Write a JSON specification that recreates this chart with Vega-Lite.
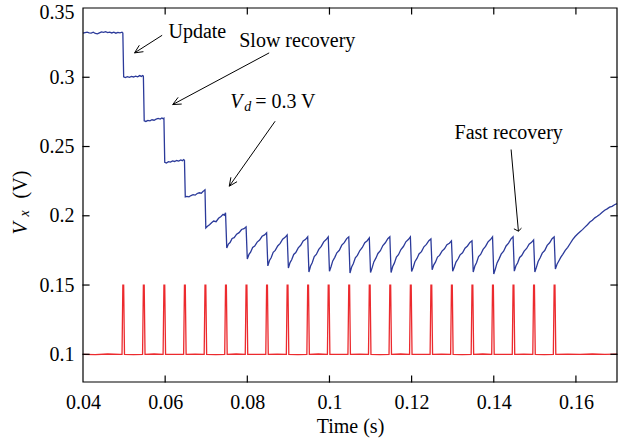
{
  "$schema": "https://vega.github.io/schema/vega-lite/v6.json",
  "width": 534,
  "height": 374,
  "autosize": "none",
  "padding": {"left": 83, "top": 8, "right": 1, "bottom": 62},
  "background": "white",
  "config": {
    "view": {"stroke": null},
    "text": {"font": "Liberation Serif", "fontSize": 20, "color": "black", "align": "left", "baseline": "alphabetic"}
  },
  "encoding": {
    "x": {"field": "t", "type": "quantitative", "scale": {"domain": [0.04, 0.17], "nice": false, "zero": false},
      "axis": {"orient": "bottom", "title": "Time (s)", "values": [0.04, 0.06, 0.08, 0.1, 0.12, 0.14, 0.16], "format": "~g",
        "domain": false, "ticks": false, "grid": false, "labelFlush": false, "labelOverlap": false,
        "labelFont": "Liberation Serif", "labelFontSize": 20, "labelColor": "#000000", "labelPadding": 10,
        "titleFont": "Liberation Serif", "titleFontSize": 20, "titleFontWeight": "normal", "titleColor": "#000000", "titlePadding": 4}},
    "y": {"field": "v", "type": "quantitative", "scale": {"domain": [0.08, 0.35], "nice": false, "zero": false},
      "axis": {"orient": "left", "title": null, "values": [0.1, 0.15, 0.2, 0.25, 0.3, 0.35], "format": "~g",
        "domain": false, "ticks": false, "grid": false, "labelFlush": 1, "labelFlushOffset": 6, "labelOverlap": false,
        "labelFont": "Liberation Serif", "labelFontSize": 20, "labelColor": "#000000", "labelPadding": 9}}
  },
  "datasets": {
    "vx": [
      {"t":0.0400,"v":0.3318},{"t":0.0405,"v":0.3322},{"t":0.0410,"v":0.3326},{"t":0.0415,"v":0.3321},{"t":0.0420,"v":0.3319},{"t":0.0425,"v":0.3325},{"t":0.0430,"v":0.3316},{"t":0.0435,"v":0.3313},{"t":0.0440,"v":0.3320},{"t":0.0445,"v":0.3327},{"t":0.0450,"v":0.3324},{"t":0.0455,"v":0.3329},{"t":0.0460,"v":0.3322},{"t":0.0465,"v":0.3326},{"t":0.0470,"v":0.3320},{"t":0.0475,"v":0.3325},{"t":0.0480,"v":0.3318},{"t":0.0485,"v":0.3324},{"t":0.0490,"v":0.3321},{"t":0.0495,"v":0.3325},{"t":0.0497,"v":0.3320},
      {"t":0.0499,"v":0.3003},{"t":0.0503,"v":0.2998},{"t":0.0508,"v":0.3004},{"t":0.0513,"v":0.3000},{"t":0.0518,"v":0.3006},{"t":0.0523,"v":0.3002},{"t":0.0528,"v":0.3008},{"t":0.0533,"v":0.3003},{"t":0.0538,"v":0.3012},{"t":0.0542,"v":0.3006},{"t":0.0545,"v":0.3013},{"t":0.0547,"v":0.3009},
      {"t":0.0549,"v":0.2686},{"t":0.0553,"v":0.2681},{"t":0.0558,"v":0.2689},{"t":0.0563,"v":0.2685},{"t":0.0568,"v":0.2693},{"t":0.0573,"v":0.2690},{"t":0.0578,"v":0.2698},{"t":0.0583,"v":0.2703},{"t":0.0588,"v":0.2698},{"t":0.0592,"v":0.2706},{"t":0.0595,"v":0.2701},{"t":0.0597,"v":0.2705},
      {"t":0.0599,"v":0.2386},{"t":0.0603,"v":0.2381},{"t":0.0608,"v":0.2391},{"t":0.0613,"v":0.2387},{"t":0.0618,"v":0.2396},{"t":0.0623,"v":0.2392},{"t":0.0628,"v":0.2399},{"t":0.0633,"v":0.2395},{"t":0.0638,"v":0.2403},{"t":0.0642,"v":0.2398},{"t":0.0645,"v":0.2406},{"t":0.0647,"v":0.2401},
      {"t":0.0649,"v":0.2136},{"t":0.0653,"v":0.2140},{"t":0.0658,"v":0.2137},{"t":0.0663,"v":0.2146},{"t":0.0668,"v":0.2152},{"t":0.0673,"v":0.2149},{"t":0.0678,"v":0.2161},{"t":0.0683,"v":0.2166},{"t":0.0688,"v":0.2163},{"t":0.0692,"v":0.2175},{"t":0.0695,"v":0.2182},{"t":0.0697,"v":0.2187},
      {"t":0.0699,"v":0.1912},{"t":0.0703,"v":0.1924},{"t":0.0708,"v":0.1935},{"t":0.0713,"v":0.1950},{"t":0.0718,"v":0.1962},{"t":0.0724,"v":0.1957},{"t":0.0730,"v":0.1982},{"t":0.0736,"v":0.1995},{"t":0.0741,"v":0.2010},{"t":0.0744,"v":0.2004},{"t":0.0747,"v":0.2022},
      {"t":0.0750,"v":0.1768},{"t":0.0754,"v":0.1796},{"t":0.0758,"v":0.1807},{"t":0.0763,"v":0.1836},{"t":0.0768,"v":0.1842},{"t":0.0774,"v":0.1867},{"t":0.0780,"v":0.1878},{"t":0.0786,"v":0.1901},{"t":0.0792,"v":0.1907},{"t":0.0797,"v":0.1920},
      {"t":0.0800,"v":0.1688},{"t":0.0804,"v":0.1721},{"t":0.0808,"v":0.1737},{"t":0.0813,"v":0.1771},{"t":0.0818,"v":0.1781},{"t":0.0824,"v":0.1810},{"t":0.0830,"v":0.1825},{"t":0.0836,"v":0.1852},{"t":0.0842,"v":0.1862},{"t":0.0847,"v":0.1877},
      {"t":0.0850,"v":0.1638},{"t":0.0854,"v":0.1677},{"t":0.0858,"v":0.1697},{"t":0.0863,"v":0.1736},{"t":0.0868,"v":0.1750},{"t":0.0874,"v":0.1782},{"t":0.0880,"v":0.1801},{"t":0.0886,"v":0.1831},{"t":0.0892,"v":0.1844},{"t":0.0897,"v":0.1862},
      {"t":0.0900,"v":0.1623},{"t":0.0904,"v":0.1662},{"t":0.0908,"v":0.1682},{"t":0.0913,"v":0.1721},{"t":0.0918,"v":0.1735},{"t":0.0924,"v":0.1768},{"t":0.0930,"v":0.1787},{"t":0.0936,"v":0.1818},{"t":0.0942,"v":0.1830},{"t":0.0947,"v":0.1848},
      {"t":0.0950,"v":0.1594},{"t":0.0954,"v":0.1637},{"t":0.0958,"v":0.1661},{"t":0.0963,"v":0.1705},{"t":0.0968,"v":0.1721},{"t":0.0974,"v":0.1757},{"t":0.0980,"v":0.1779},{"t":0.0986,"v":0.1812},{"t":0.0992,"v":0.1828},{"t":0.0997,"v":0.1848},
      {"t":0.1000,"v":0.1600},{"t":0.1004,"v":0.1634},{"t":0.1008,"v":0.1674},{"t":0.1013,"v":0.1700},{"t":0.1018,"v":0.1733},{"t":0.1024,"v":0.1751},{"t":0.1030,"v":0.1788},{"t":0.1036,"v":0.1806},{"t":0.1042,"v":0.1835},{"t":0.1047,"v":0.1848},
      {"t":0.1050,"v":0.1587},{"t":0.1054,"v":0.1630},{"t":0.1058,"v":0.1654},{"t":0.1063,"v":0.1697},{"t":0.1068,"v":0.1714},{"t":0.1074,"v":0.1749},{"t":0.1080,"v":0.1771},{"t":0.1086,"v":0.1805},{"t":0.1092,"v":0.1820},{"t":0.1097,"v":0.1840},
      {"t":0.1100,"v":0.1590},{"t":0.1104,"v":0.1626},{"t":0.1108,"v":0.1667},{"t":0.1113,"v":0.1694},{"t":0.1118,"v":0.1728},{"t":0.1124,"v":0.1748},{"t":0.1130,"v":0.1785},{"t":0.1136,"v":0.1805},{"t":0.1142,"v":0.1834},{"t":0.1147,"v":0.1848},
      {"t":0.1150,"v":0.1590},{"t":0.1154,"v":0.1634},{"t":0.1158,"v":0.1658},{"t":0.1163,"v":0.1702},{"t":0.1168,"v":0.1719},{"t":0.1174,"v":0.1756},{"t":0.1180,"v":0.1778},{"t":0.1186,"v":0.1812},{"t":0.1192,"v":0.1828},{"t":0.1197,"v":0.1848},
      {"t":0.1200,"v":0.1597},{"t":0.1204,"v":0.1629},{"t":0.1208,"v":0.1668},{"t":0.1213,"v":0.1692},{"t":0.1218,"v":0.1724},{"t":0.1224,"v":0.1741},{"t":0.1230,"v":0.1776},{"t":0.1236,"v":0.1793},{"t":0.1242,"v":0.1820},{"t":0.1247,"v":0.1833},
      {"t":0.1250,"v":0.1610},{"t":0.1254,"v":0.1646},{"t":0.1258,"v":0.1665},{"t":0.1263,"v":0.1702},{"t":0.1268,"v":0.1714},{"t":0.1274,"v":0.1745},{"t":0.1280,"v":0.1762},{"t":0.1286,"v":0.1791},{"t":0.1292,"v":0.1802},{"t":0.1297,"v":0.1819},
      {"t":0.1300,"v":0.1600},{"t":0.1304,"v":0.1630},{"t":0.1308,"v":0.1666},{"t":0.1313,"v":0.1688},{"t":0.1318,"v":0.1718},{"t":0.1324,"v":0.1733},{"t":0.1330,"v":0.1766},{"t":0.1336,"v":0.1782},{"t":0.1342,"v":0.1808},{"t":0.1347,"v":0.1819},
      {"t":0.1350,"v":0.1594},{"t":0.1354,"v":0.1637},{"t":0.1358,"v":0.1661},{"t":0.1363,"v":0.1705},{"t":0.1368,"v":0.1721},{"t":0.1374,"v":0.1757},{"t":0.1380,"v":0.1779},{"t":0.1386,"v":0.1812},{"t":0.1392,"v":0.1828},{"t":0.1397,"v":0.1848},
      {"t":0.1400,"v":0.1580},{"t":0.1404,"v":0.1617},{"t":0.1408,"v":0.1660},{"t":0.1413,"v":0.1689},{"t":0.1418,"v":0.1723},{"t":0.1424,"v":0.1744},{"t":0.1430,"v":0.1782},{"t":0.1436,"v":0.1803},{"t":0.1442,"v":0.1833},{"t":0.1447,"v":0.1848},
      {"t":0.1450,"v":0.1600},{"t":0.1454,"v":0.1639},{"t":0.1458,"v":0.1659},{"t":0.1463,"v":0.1699},{"t":0.1468,"v":0.1713},{"t":0.1474,"v":0.1745},{"t":0.1480,"v":0.1764},{"t":0.1486,"v":0.1795},{"t":0.1492,"v":0.1808},{"t":0.1497,"v":0.1826},
      {"t":0.1500,"v":0.1594},{"t":0.1504,"v":0.1629},{"t":0.1508,"v":0.1670},{"t":0.1513,"v":0.1697},{"t":0.1518,"v":0.1730},{"t":0.1524,"v":0.1749},{"t":0.1530,"v":0.1786},{"t":0.1536,"v":0.1805},{"t":0.1542,"v":0.1834},{"t":0.1547,"v":0.1848},
      {"t":0.1550,"v":0.1616},{"t":0.1554,"v":0.1650},{"t":0.1558,"v":0.1672},{"t":0.1563,"v":0.1700},{"t":0.1568,"v":0.1722},{"t":0.1574,"v":0.1750},{"t":0.1580,"v":0.1772},{"t":0.1586,"v":0.1800},{"t":0.1592,"v":0.1828},{"t":0.1598,"v":0.1850},{"t":0.1604,"v":0.1868},{"t":0.1610,"v":0.1885},{"t":0.1616,"v":0.1900},{"t":0.1622,"v":0.1918},{"t":0.1628,"v":0.1935},{"t":0.1634,"v":0.1955},{"t":0.1640,"v":0.1968},{"t":0.1646,"v":0.1985},{"t":0.1652,"v":0.1996},{"t":0.1658,"v":0.2010},{"t":0.1664,"v":0.2025},{"t":0.1670,"v":0.2040},{"t":0.1676,"v":0.2050},{"t":0.1682,"v":0.2062},{"t":0.1688,"v":0.2068},{"t":0.1694,"v":0.2080},{"t":0.1700,"v":0.2088}
    ],
    "pulse": [
      {"t":0.0400,"v":0.1000},{"t":0.0430,"v":0.0998},{"t":0.0460,"v":0.1002},{"t":0.0490,"v":0.0999},
      {"t":0.0495,"v":0.1000},{"t":0.0497,"v":0.15},{"t":0.0499,"v":0.15},{"t":0.0501,"v":0.1000},{"t":0.0523,"v":0.0998},
      {"t":0.0545,"v":0.1000},{"t":0.0547,"v":0.15},{"t":0.0549,"v":0.15},{"t":0.0551,"v":0.1000},{"t":0.0573,"v":0.1002},
      {"t":0.0595,"v":0.1000},{"t":0.0597,"v":0.15},{"t":0.0599,"v":0.15},{"t":0.0601,"v":0.1000},{"t":0.0623,"v":0.0999},
      {"t":0.0645,"v":0.1000},{"t":0.0647,"v":0.15},{"t":0.0649,"v":0.15},{"t":0.0651,"v":0.1000},{"t":0.0673,"v":0.1001},
      {"t":0.0695,"v":0.1000},{"t":0.0697,"v":0.15},{"t":0.0699,"v":0.15},{"t":0.0701,"v":0.1000},{"t":0.0723,"v":0.0998},
      {"t":0.0745,"v":0.1000},{"t":0.0747,"v":0.15},{"t":0.0749,"v":0.15},{"t":0.0751,"v":0.1000},{"t":0.0773,"v":0.1002},
      {"t":0.0795,"v":0.1000},{"t":0.0797,"v":0.15},{"t":0.0799,"v":0.15},{"t":0.0801,"v":0.1000},{"t":0.0823,"v":0.0999},
      {"t":0.0845,"v":0.1000},{"t":0.0847,"v":0.15},{"t":0.0849,"v":0.15},{"t":0.0851,"v":0.1000},{"t":0.0873,"v":0.1001},
      {"t":0.0895,"v":0.1000},{"t":0.0897,"v":0.15},{"t":0.0899,"v":0.15},{"t":0.0901,"v":0.1000},{"t":0.0923,"v":0.0998},
      {"t":0.0945,"v":0.1000},{"t":0.0947,"v":0.15},{"t":0.0949,"v":0.15},{"t":0.0951,"v":0.1000},{"t":0.0973,"v":0.1002},
      {"t":0.0995,"v":0.1000},{"t":0.0997,"v":0.15},{"t":0.0999,"v":0.15},{"t":0.1001,"v":0.1000},{"t":0.1023,"v":0.0999},
      {"t":0.1045,"v":0.1000},{"t":0.1047,"v":0.15},{"t":0.1049,"v":0.15},{"t":0.1051,"v":0.1000},{"t":0.1073,"v":0.1001},
      {"t":0.1095,"v":0.1000},{"t":0.1097,"v":0.15},{"t":0.1099,"v":0.15},{"t":0.1101,"v":0.1000},{"t":0.1123,"v":0.0998},
      {"t":0.1145,"v":0.1000},{"t":0.1147,"v":0.15},{"t":0.1149,"v":0.15},{"t":0.1151,"v":0.1000},{"t":0.1173,"v":0.1002},
      {"t":0.1195,"v":0.1000},{"t":0.1197,"v":0.15},{"t":0.1199,"v":0.15},{"t":0.1201,"v":0.1000},{"t":0.1223,"v":0.0999},
      {"t":0.1245,"v":0.1000},{"t":0.1247,"v":0.15},{"t":0.1249,"v":0.15},{"t":0.1251,"v":0.1000},{"t":0.1273,"v":0.1001},
      {"t":0.1295,"v":0.1000},{"t":0.1297,"v":0.15},{"t":0.1299,"v":0.15},{"t":0.1301,"v":0.1000},{"t":0.1323,"v":0.0998},
      {"t":0.1345,"v":0.1000},{"t":0.1347,"v":0.15},{"t":0.1349,"v":0.15},{"t":0.1351,"v":0.1000},{"t":0.1373,"v":0.1002},
      {"t":0.1395,"v":0.1000},{"t":0.1397,"v":0.15},{"t":0.1399,"v":0.15},{"t":0.1401,"v":0.1000},{"t":0.1423,"v":0.0999},
      {"t":0.1445,"v":0.1000},{"t":0.1447,"v":0.15},{"t":0.1449,"v":0.15},{"t":0.1451,"v":0.1000},{"t":0.1473,"v":0.1001},
      {"t":0.1495,"v":0.1000},{"t":0.1497,"v":0.15},{"t":0.1499,"v":0.15},{"t":0.1501,"v":0.1000},{"t":0.1523,"v":0.0998},
      {"t":0.1545,"v":0.1000},{"t":0.1547,"v":0.15},{"t":0.1549,"v":0.15},{"t":0.1551,"v":0.1000},
      {"t":0.1580,"v":0.1001},{"t":0.1610,"v":0.0999},{"t":0.1640,"v":0.1002},{"t":0.1670,"v":0.1000},{"t":0.1700,"v":0.1001}
    ],
    "box": [
      {"seg":"frame","o":1,"t":0.04,"v":0.08},{"seg":"frame","o":2,"t":0.17,"v":0.08},{"seg":"frame","o":3,"t":0.17,"v":0.35},{"seg":"frame","o":4,"t":0.04,"v":0.35},{"seg":"frame","o":5,"t":0.04,"v":0.08},
      {"seg":"b06","o":1,"t":0.06,"v":0.08},{"seg":"b06","o":2,"t":0.06,"v":0.08433},
      {"seg":"b08","o":1,"t":0.08,"v":0.08},{"seg":"b08","o":2,"t":0.08,"v":0.08433},
      {"seg":"b10","o":1,"t":0.10,"v":0.08},{"seg":"b10","o":2,"t":0.10,"v":0.08433},
      {"seg":"b12","o":1,"t":0.12,"v":0.08},{"seg":"b12","o":2,"t":0.12,"v":0.08433},
      {"seg":"b14","o":1,"t":0.14,"v":0.08},{"seg":"b14","o":2,"t":0.14,"v":0.08433},
      {"seg":"b16","o":1,"t":0.16,"v":0.08},{"seg":"b16","o":2,"t":0.16,"v":0.08433},
      {"seg":"t06","o":1,"t":0.06,"v":0.35},{"seg":"t06","o":2,"t":0.06,"v":0.34567},
      {"seg":"t08","o":1,"t":0.08,"v":0.35},{"seg":"t08","o":2,"t":0.08,"v":0.34567},
      {"seg":"t10","o":1,"t":0.10,"v":0.35},{"seg":"t10","o":2,"t":0.10,"v":0.34567},
      {"seg":"t12","o":1,"t":0.12,"v":0.35},{"seg":"t12","o":2,"t":0.12,"v":0.34567},
      {"seg":"t14","o":1,"t":0.14,"v":0.35},{"seg":"t14","o":2,"t":0.14,"v":0.34567},
      {"seg":"t16","o":1,"t":0.16,"v":0.35},{"seg":"t16","o":2,"t":0.16,"v":0.34567},
      {"seg":"l10","o":1,"t":0.04,"v":0.10},{"seg":"l10","o":2,"t":0.04146,"v":0.10},
      {"seg":"l15","o":1,"t":0.04,"v":0.15},{"seg":"l15","o":2,"t":0.04146,"v":0.15},
      {"seg":"l20","o":1,"t":0.04,"v":0.20},{"seg":"l20","o":2,"t":0.04146,"v":0.20},
      {"seg":"l25","o":1,"t":0.04,"v":0.25},{"seg":"l25","o":2,"t":0.04146,"v":0.25},
      {"seg":"l30","o":1,"t":0.04,"v":0.30},{"seg":"l30","o":2,"t":0.04146,"v":0.30},
      {"seg":"r10","o":1,"t":0.17,"v":0.10},{"seg":"r10","o":2,"t":0.16854,"v":0.10},
      {"seg":"r15","o":1,"t":0.17,"v":0.15},{"seg":"r15","o":2,"t":0.16854,"v":0.15},
      {"seg":"r20","o":1,"t":0.17,"v":0.20},{"seg":"r20","o":2,"t":0.16854,"v":0.20},
      {"seg":"r25","o":1,"t":0.17,"v":0.25},{"seg":"r25","o":2,"t":0.16854,"v":0.25},
      {"seg":"r30","o":1,"t":0.17,"v":0.30},{"seg":"r30","o":2,"t":0.16854,"v":0.30}
    ],
    "arrows": [
      {"seg":"update-shaft","o":1,"t":0.05927,"v":0.33030},{"seg":"update-shaft","o":2,"t":0.05255,"v":0.31760},
      {"seg":"update-head","o":1,"t":0.05471,"v":0.31847},{"seg":"update-head","o":2,"t":0.05255,"v":0.31760},{"seg":"update-head","o":3,"t":0.05371,"v":0.32309},
      {"seg":"slow-shaft","o":1,"t":0.08532,"v":0.31760},{"seg":"slow-shaft","o":2,"t":0.06184,"v":0.28030},
      {"seg":"slow-head","o":1,"t":0.06403,"v":0.28066},{"seg":"slow-head","o":2,"t":0.06184,"v":0.28030},{"seg":"slow-head","o":3,"t":0.06316,"v":0.28550},
      {"seg":"vd-shaft","o":1,"t":0.08677,"v":0.26825},{"seg":"vd-shaft","o":2,"t":0.07561,"v":0.22136},
      {"seg":"vd-head","o":1,"t":0.07750,"v":0.22460},{"seg":"vd-head","o":2,"t":0.07561,"v":0.22136},{"seg":"vd-head","o":3,"t":0.07600,"v":0.22778},
      {"seg":"fast-shaft","o":1,"t":0.14422,"v":0.24784},{"seg":"fast-shaft","o":2,"t":0.14600,"v":0.18889},
      {"seg":"fast-head","o":1,"t":0.14675,"v":0.19108},{"seg":"fast-head","o":2,"t":0.14600,"v":0.18889},{"seg":"fast-head","o":3,"t":0.14490,"v":0.19058}
    ],
    "labels": [
      {"label":"Update","t":0.06080,"v":0.32864},
      {"label":"Slow recovery","t":0.07803,"v":0.32215},
      {"label":"= 0.3 V","t":0.08192,"v":0.27814},
      {"label":"Fast recovery","t":0.13046,"v":0.25577}
    ],
    "italicLabels": [{"label":"V","t":0.07585,"v":0.27814}],
    "subLabels": [{"label":"d","t":0.07925,"v":0.27561}],
    "yTitleItalic": [{"label":"V","t":0.02633,"v":0.18650}],
    "yTitleSub": [{"label":"x","t":0.02694,"v":0.19950}],
    "yTitleRoman": [{"label":"(V)","t":0.02633,"v":0.21250}]
  },
  "layer": [
    {"data": {"name": "vx"}, "mark": {"type": "line", "color": "#2b3a9a", "strokeWidth": 1.3}},
    {"data": {"name": "pulse"}, "mark": {"type": "line", "color": "#ec2a2e", "strokeWidth": 1.3}},
    {"data": {"name": "box"}, "mark": {"type": "line", "color": "#000000", "strokeWidth": 1.2, "strokeCap": "square"},
      "encoding": {"detail": {"field": "seg"}, "order": {"field": "o", "type": "quantitative"}}},
    {"data": {"name": "arrows"}, "mark": {"type": "line", "color": "black", "strokeWidth": 1},
      "encoding": {"detail": {"field": "seg"}, "order": {"field": "o", "type": "quantitative"}}},
    {"data": {"name": "labels"}, "mark": {"type": "text"}, "encoding": {"text": {"field": "label"}}},
    {"data": {"name": "italicLabels"}, "mark": {"type": "text", "fontStyle": "italic"}, "encoding": {"text": {"field": "label"}}},
    {"data": {"name": "subLabels"}, "mark": {"type": "text", "fontStyle": "italic", "fontSize": 14}, "encoding": {"text": {"field": "label"}}},
    {"data": {"name": "yTitleItalic"}, "mark": {"type": "text", "fontStyle": "italic", "angle": 270}, "encoding": {"text": {"field": "label"}}},
    {"data": {"name": "yTitleSub"}, "mark": {"type": "text", "fontStyle": "italic", "fontSize": 14, "angle": 270}, "encoding": {"text": {"field": "label"}}},
    {"data": {"name": "yTitleRoman"}, "mark": {"type": "text", "angle": 270}, "encoding": {"text": {"field": "label"}}}
  ]
}
